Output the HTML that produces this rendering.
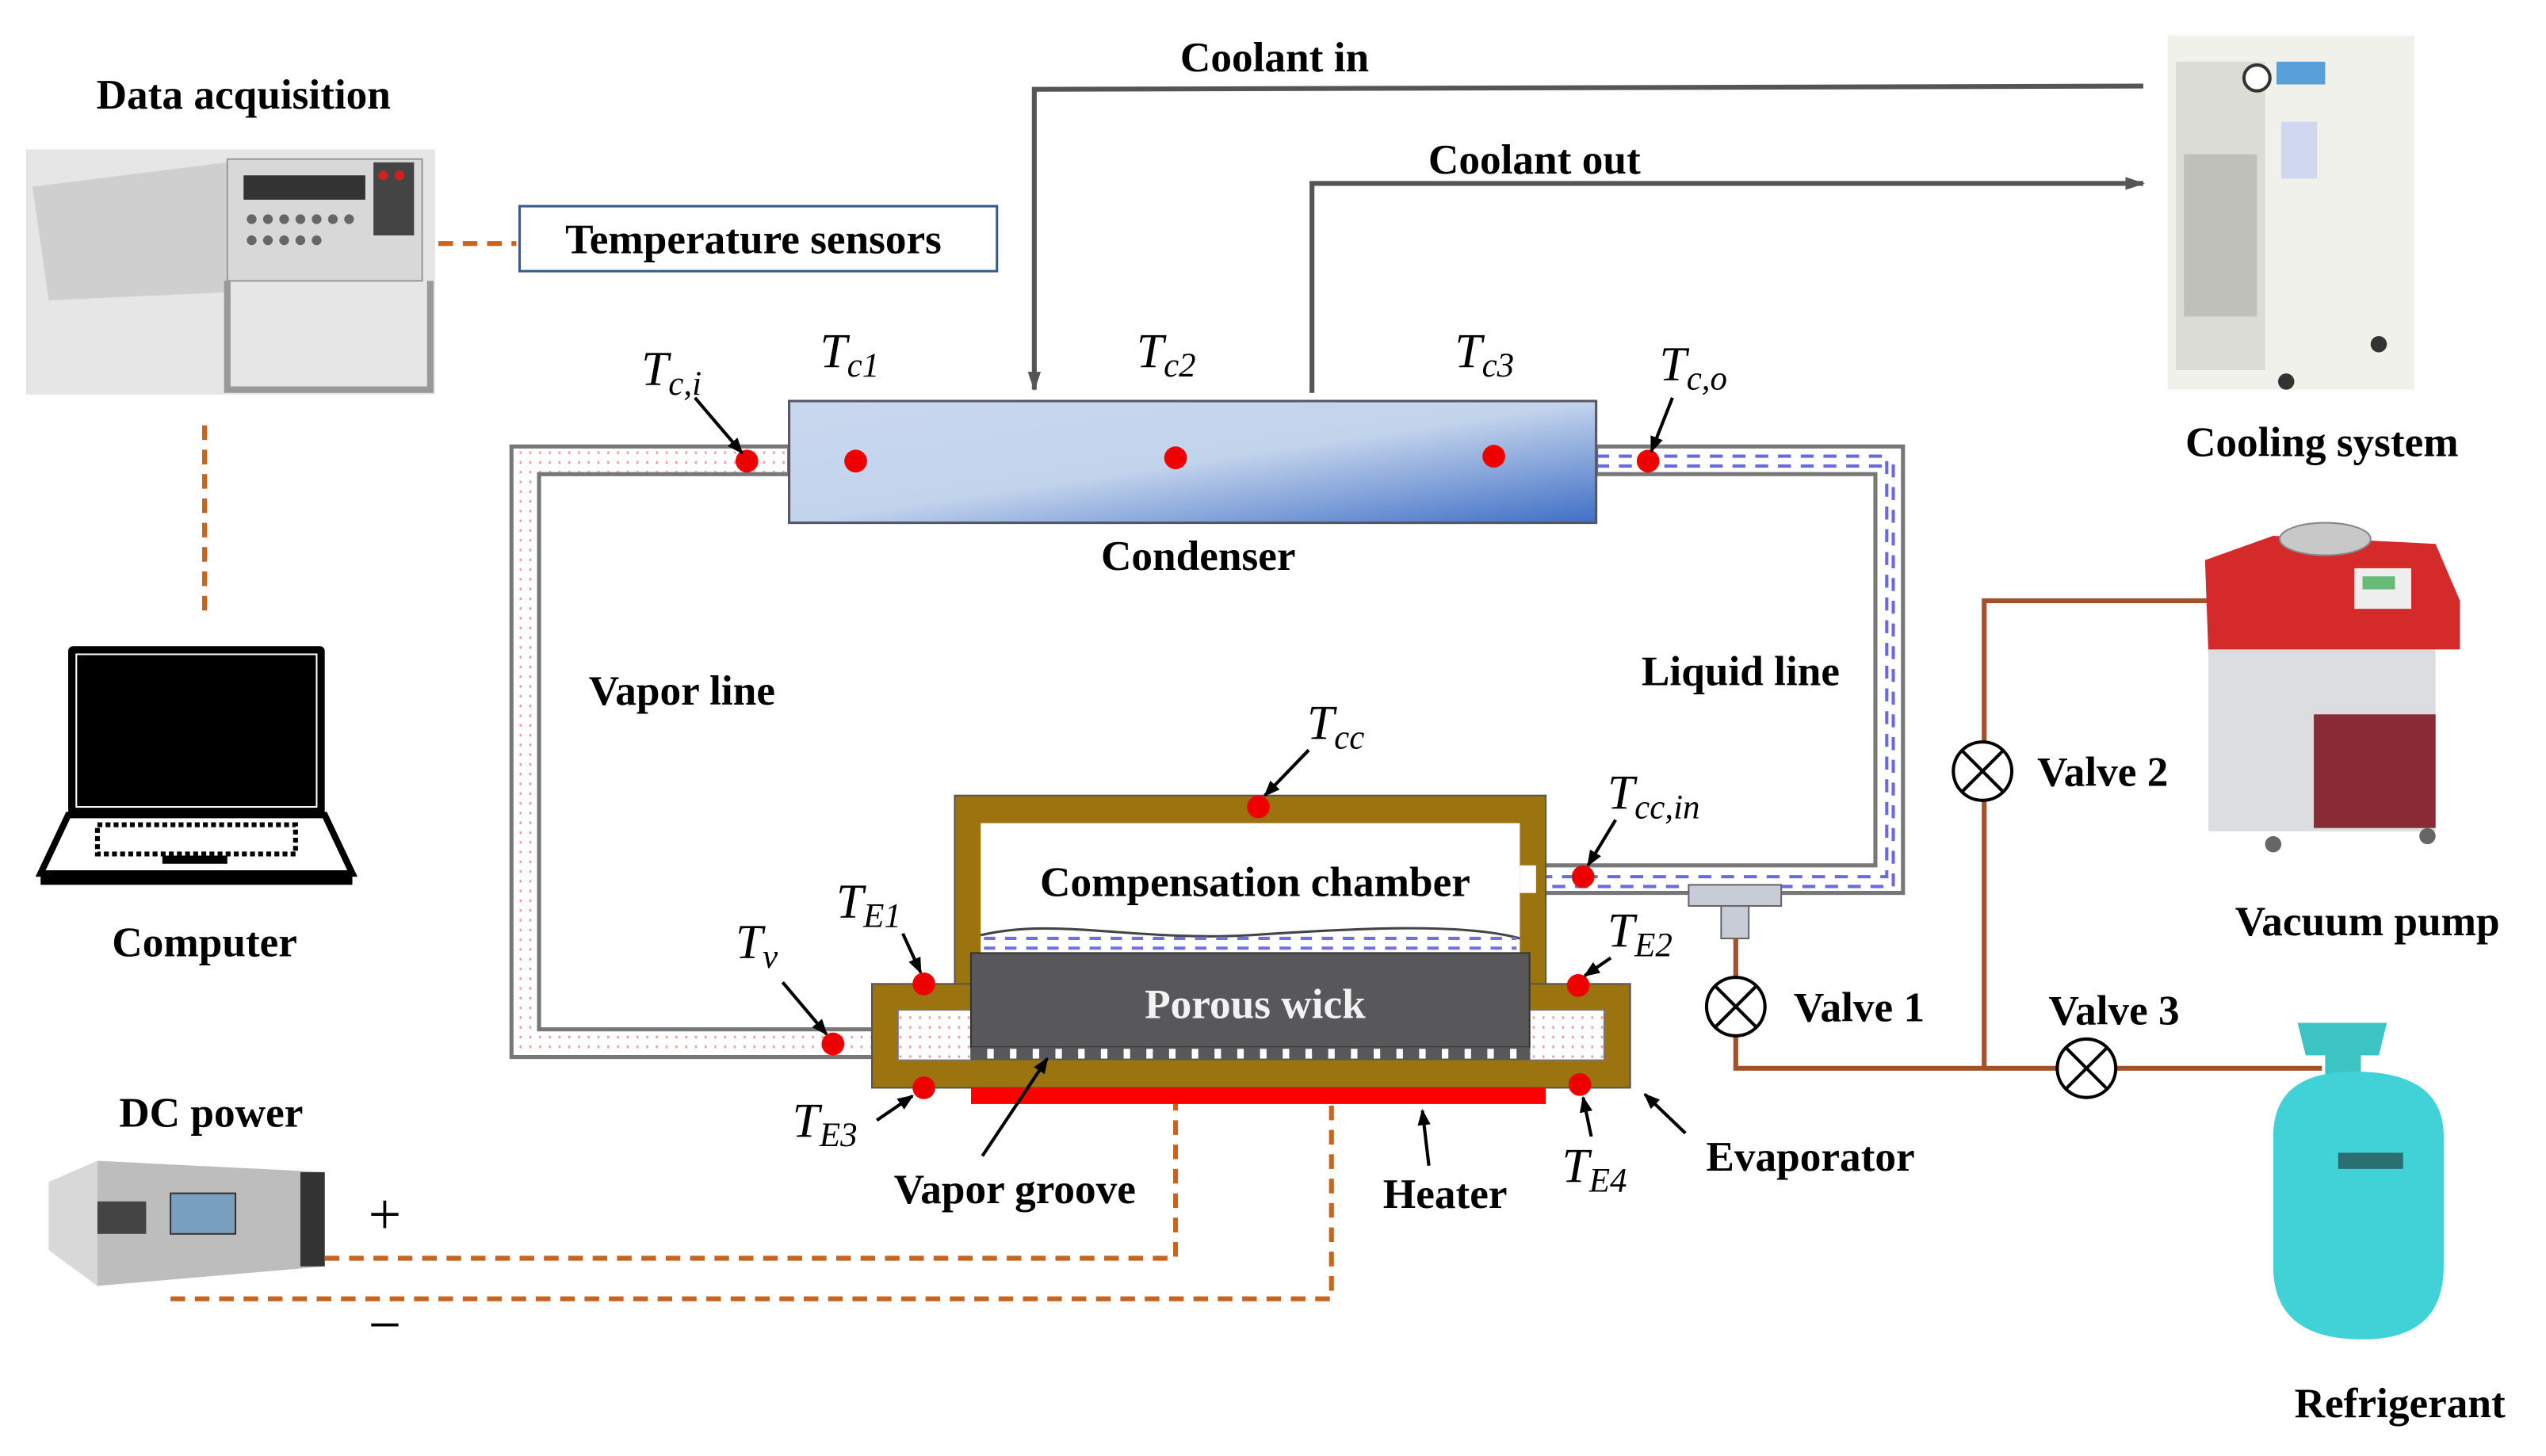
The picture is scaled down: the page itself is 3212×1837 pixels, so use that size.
<!DOCTYPE html>
<html><head><meta charset="utf-8"><style>
html,body{margin:0;padding:0;background:#fff;width:3212px;height:1837px;overflow:hidden}
svg{display:block}
text{font-family:"Liberation Serif",serif;}
.b{font-weight:bold;font-size:26px;fill:#000}
.t{font-style:italic;font-size:30px;fill:#000}
.s{font-style:italic;font-size:21px}
</style></head><body>
<svg width="3212" height="1837" viewBox="0 0 1568 896.8" preserveAspectRatio="none" xmlns="http://www.w3.org/2000/svg">
<defs>
<linearGradient id="cg" x1="0" y1="0" x2="1" y2="1">
<stop offset="0" stop-color="#c9d8ef"/><stop offset="0.5" stop-color="#c2d3ec"/><stop offset="1" stop-color="#3f6fc6"/>
</linearGradient>
<pattern id="pd" width="6" height="6" patternUnits="userSpaceOnUse"><rect width="6" height="6" fill="#fff"/><rect x="2" y="2" width="1.2" height="1.6" fill="#e99"/></pattern>
<marker id="ar" markerWidth="10" markerHeight="10" refX="9" refY="5" orient="auto" markerUnits="userSpaceOnUse"><path d="M0,1 L10,5 L0,9 Z" fill="#000"/></marker>
<marker id="ag" markerWidth="12" markerHeight="10" refX="11" refY="5" orient="auto" markerUnits="userSpaceOnUse"><path d="M0,1 L12,5 L0,9 Z" fill="#555"/></marker>
</defs>

<!-- Data acquisition -->
<text class="b" x="150" y="67" text-anchor="middle">Data acquisition</text>
<rect x="16" y="92" width="252" height="151" fill="#e6e6e6"/>
<path d="M20,115 L140,100 L140,180 L30,185 Z" fill="#cfcfcf"/>
<rect x="140" y="98" width="120" height="75" fill="#d8d8d8" stroke="#999"/>
<rect x="150" y="108" width="75" height="15" fill="#333"/>
<rect x="230" y="100" width="25" height="45" fill="#444"/>
<circle cx="236" cy="108" r="3" fill="#c22"/><circle cx="246" cy="108" r="3" fill="#c22"/>
<g fill="#666"><circle cx="155" cy="135" r="3"/><circle cx="165" cy="135" r="3"/><circle cx="175" cy="135" r="3"/><circle cx="185" cy="135" r="3"/><circle cx="195" cy="135" r="3"/><circle cx="205" cy="135" r="3"/><circle cx="215" cy="135" r="3"/><circle cx="155" cy="148" r="3"/><circle cx="165" cy="148" r="3"/><circle cx="175" cy="148" r="3"/><circle cx="185" cy="148" r="3"/><circle cx="195" cy="148" r="3"/></g>
<path d="M140,173 L140,240 L265,240 L265,173" fill="none" stroke="#999" stroke-width="4"/>
<line x1="270" y1="150" x2="318" y2="150" stroke="#c8641e" stroke-width="3" stroke-dasharray="9,6"/>
<rect x="320" y="127" width="294" height="40" fill="#fff" stroke="#3a5a8a" stroke-width="1.5"/>
<text class="b" x="464" y="156" text-anchor="middle">Temperature sensors</text>
<line x1="126" y1="262" x2="126" y2="380" stroke="#c8641e" stroke-width="3" stroke-dasharray="9,6"/>

<!-- Computer -->
<rect x="42" y="398" width="158" height="104" fill="#000" rx="3"/>
<rect x="47" y="403" width="148" height="94" fill="#000" stroke="#fff" stroke-width="1"/>
<path d="M42,502 L200,502 L217,538 L25,538 Z" fill="#fff" stroke="#000" stroke-width="4"/>
<rect x="60" y="508" width="122" height="18" fill="none" stroke="#000" stroke-width="3" stroke-dasharray="3,2"/>
<rect x="100" y="527" width="40" height="5" fill="#000"/>
<rect x="25" y="538" width="192" height="7" fill="#000"/>
<text class="b" x="126" y="589" text-anchor="middle">Computer</text>

<!-- DC power -->
<text class="b" x="130" y="694" text-anchor="middle">DC power</text>
<path d="M30,728 L60,715 L200,722 L200,780 L60,792 L30,770 Z" fill="#d8d8d8"/>
<path d="M60,715 L200,722 L200,780 L60,792 Z" fill="#bdbdbd"/>
<rect x="105" y="735" width="40" height="25" fill="#7aa0c0" stroke="#333"/>
<rect x="185" y="722" width="15" height="58" fill="#333"/>
<rect x="60" y="740" width="30" height="20" fill="#444"/>
<text x="237" y="760" font-size="36" text-anchor="middle" font-family="Liberation Sans,sans-serif">+</text>
<text x="237" y="828" font-size="36" text-anchor="middle" font-family="Liberation Sans,sans-serif">−</text>
<polyline points="200,775 724,775 724,680" fill="none" stroke="#c8641e" stroke-width="3" stroke-dasharray="9,6"/>
<polyline points="105,800 820,800 820,680" fill="none" stroke="#c8641e" stroke-width="3" stroke-dasharray="9,6"/>

<!-- Coolant lines -->
<polyline points="1320,53 637,55 637,240" fill="none" stroke="#555" stroke-width="3" marker-end="url(#ag)"/>
<polyline points="808,242 808,113 1320,113" fill="none" stroke="#555" stroke-width="3" marker-end="url(#ag)"/>
<text class="b" x="785" y="44" text-anchor="middle">Coolant in</text>
<text class="b" x="945" y="107" text-anchor="middle">Coolant out</text>

<!-- Cooling system -->
<rect x="1335" y="22" width="152" height="218" fill="#f1f1ec"/>
<rect x="1340" y="38" width="55" height="190" fill="#dcdcd6"/>
<rect x="1345" y="95" width="45" height="100" fill="#c0c0bb"/>
<circle cx="1390" cy="48" r="8" fill="#fff" stroke="#333" stroke-width="2"/>
<rect x="1402" y="38" width="30" height="14" fill="#5aa0d8"/>
<rect x="1405" y="75" width="22" height="35" fill="#cfd8ef"/>
<circle cx="1408" cy="235" r="5" fill="#333"/><circle cx="1465" cy="212" r="5" fill="#333"/>
<text class="b" x="1430" y="281" text-anchor="middle">Cooling system</text>

<!-- Vapor line pipe -->
<path d="M486,275 L315,275 L315,651 L540,651 L540,634 L332,634 L332,292 L486,292 Z" fill="url(#pd)" stroke="#777" stroke-width="2.5"/>
<!-- Liquid line pipe -->
<path d="M983,275 L1172,275 L1172,550 L937,550 L937,533 L1155,533 L1155,292 L983,292 Z" fill="#fff" stroke="#777" stroke-width="2.5"/>
<g stroke="#6a6ae0" stroke-width="2" stroke-dasharray="8,6" fill="none">
<polyline points="983,281 1162,281 1162,540 940,540"/>
<polyline points="983,287 1166,287 1166,546 940,546"/>
</g>

<!-- Condenser -->
<rect x="486" y="247" width="497" height="75" fill="url(#cg)" stroke="#556" stroke-width="1.5"/>
<text class="b" x="738" y="351" text-anchor="middle">Condenser</text>
<g fill="#e00"><circle cx="527" cy="284" r="7"/><circle cx="724" cy="282" r="7"/><circle cx="920" cy="281" r="7"/><circle cx="460" cy="284" r="7"/><circle cx="1015" cy="284" r="7"/></g>
<text class="t" x="395" y="237">T<tspan class="s" dy="6">c,i</tspan></text>
<line x1="428" y1="245" x2="457" y2="279" stroke="#000" stroke-width="2" marker-end="url(#ar)"/>
<text class="t" x="505" y="226">T<tspan class="s" dy="6">c1</tspan></text>
<text class="t" x="700" y="226">T<tspan class="s" dy="6">c2</tspan></text>
<text class="t" x="896" y="226">T<tspan class="s" dy="6">c3</tspan></text>
<text class="t" x="1022" y="234">T<tspan class="s" dy="6">c,o</tspan></text>
<line x1="1030" y1="245" x2="1017" y2="278" stroke="#000" stroke-width="2" marker-end="url(#ar)"/>

<text class="b" x="420" y="434" text-anchor="middle">Vapor line</text>
<text class="b" x="1072" y="422" text-anchor="middle">Liquid line</text>

<!-- Evaporator -->
<rect x="588" y="490" width="364" height="125" fill="#9b7410" stroke="#555" stroke-width="1"/>
<rect x="537" y="606" width="467" height="64" fill="#9b7410" stroke="#555" stroke-width="1"/>
<rect x="604" y="507" width="332" height="82" fill="#fff"/>
<path d="M604,576 C650,565 700,580 770,576 C830,572 900,568 936,578" fill="none" stroke="#444" stroke-width="1.5"/>
<line x1="606" y1="578" x2="934" y2="578" stroke="#7070e0" stroke-width="2" stroke-dasharray="7,6"/>
<line x1="606" y1="584" x2="934" y2="584" stroke="#7070e0" stroke-width="2" stroke-dasharray="7,6"/>
<text class="b" x="773" y="552" text-anchor="middle">Compensation chamber</text>
<!-- pink cavities -->
<path d="M553,634 L553,622 L598,622 L598,653 L553,653 Z" fill="url(#pd)" stroke="#777" stroke-width="1"/>
<rect x="942" y="622" width="46" height="31" fill="url(#pd)" stroke="#777" stroke-width="1"/>
<!-- wick -->
<rect x="598" y="587" width="344" height="58" fill="#58585a" stroke="#333" stroke-width="1"/>
<rect x="598" y="645" width="344" height="8" fill="#58585a"/>
<g fill="#fff">
<rect x="608" y="646" width="4" height="6"/><rect x="622" y="646" width="4" height="6"/><rect x="636" y="646" width="4" height="6"/><rect x="650" y="646" width="4" height="6"/><rect x="664" y="646" width="4" height="6"/><rect x="678" y="646" width="4" height="6"/><rect x="692" y="646" width="4" height="6"/><rect x="706" y="646" width="4" height="6"/><rect x="720" y="646" width="4" height="6"/><rect x="734" y="646" width="4" height="6"/><rect x="748" y="646" width="4" height="6"/><rect x="762" y="646" width="4" height="6"/><rect x="776" y="646" width="4" height="6"/><rect x="790" y="646" width="4" height="6"/><rect x="804" y="646" width="4" height="6"/><rect x="818" y="646" width="4" height="6"/><rect x="832" y="646" width="4" height="6"/><rect x="846" y="646" width="4" height="6"/><rect x="860" y="646" width="4" height="6"/><rect x="874" y="646" width="4" height="6"/><rect x="888" y="646" width="4" height="6"/><rect x="902" y="646" width="4" height="6"/><rect x="916" y="646" width="4" height="6"/><rect x="930" y="646" width="4" height="6"/>
</g>
<text x="773" y="627" font-size="26" font-weight="bold" fill="#f2f2f2" text-anchor="middle" font-family="Liberation Serif,serif">Porous wick</text>
<rect x="598" y="670" width="354" height="10" fill="#f00"/>
<!-- liquid pipe entrance to CC -->
<rect x="936" y="533" width="10" height="17" fill="#fff"/>
<g fill="#e00">
<circle cx="775" cy="497" r="7"/><circle cx="975" cy="540" r="7"/><circle cx="569" cy="606" r="7"/><circle cx="972" cy="607" r="7"/><circle cx="513" cy="643" r="7"/><circle cx="569" cy="670" r="7"/><circle cx="973" cy="668" r="7"/>
</g>
<text class="t" x="805" y="455">T<tspan class="s" dy="6">cc</tspan></text>
<line x1="806" y1="462" x2="779" y2="490" stroke="#000" stroke-width="2" marker-end="url(#ar)"/>
<text class="t" x="990" y="498">T<tspan class="s" dy="6">cc,in</tspan></text>
<line x1="995" y1="505" x2="978" y2="533" stroke="#000" stroke-width="2" marker-end="url(#ar)"/>
<text class="t" x="515" y="565">T<tspan class="s" dy="6">E1</tspan></text>
<line x1="556" y1="575" x2="567" y2="599" stroke="#000" stroke-width="2" marker-end="url(#ar)"/>
<text class="t" x="990" y="583">T<tspan class="s" dy="6">E2</tspan></text>
<line x1="992" y1="590" x2="976" y2="601" stroke="#000" stroke-width="2" marker-end="url(#ar)"/>
<text class="t" x="453" y="590">T<tspan class="s" dy="6">v</tspan></text>
<line x1="482" y1="605" x2="509" y2="637" stroke="#000" stroke-width="2" marker-end="url(#ar)"/>
<text class="t" x="488" y="700">T<tspan class="s" dy="6">E3</tspan></text>
<line x1="540" y1="690" x2="562" y2="675" stroke="#000" stroke-width="2" marker-end="url(#ar)"/>
<text class="t" x="962" y="728">T<tspan class="s" dy="6">E4</tspan></text>
<line x1="980" y1="700" x2="975" y2="676" stroke="#000" stroke-width="2" marker-end="url(#ar)"/>
<line x1="605" y1="712" x2="645" y2="652" stroke="#000" stroke-width="2" marker-end="url(#ar)"/>
<text class="b" x="625" y="741" text-anchor="middle">Vapor groove</text>
<line x1="880" y1="718" x2="876" y2="684" stroke="#000" stroke-width="2" marker-end="url(#ar)"/>
<text class="b" x="890" y="744" text-anchor="middle">Heater</text>
<line x1="1038" y1="698" x2="1013" y2="674" stroke="#000" stroke-width="2" marker-end="url(#ar)"/>
<text class="b" x="1115" y="721" text-anchor="middle">Evaporator</text>

<!-- charging lines -->
<rect x="1040" y="545" width="57" height="13" fill="#c8ccd6" stroke="#666"/>
<rect x="1060" y="558" width="17" height="20" fill="#c8ccd6" stroke="#666"/>
<g stroke="#a0522d" stroke-width="3" fill="none">
<polyline points="1069,578 1069,658 1430,658"/>
<polyline points="1222,658 1222,370 1365,370"/>
</g>
<g fill="#fff" stroke="#000" stroke-width="2">
<circle cx="1069" cy="620" r="18"/><circle cx="1221" cy="475" r="18"/><circle cx="1285" cy="658" r="18"/>
</g>
<g stroke="#000" stroke-width="2">
<path d="M1056,607 L1082,633 M1082,607 L1056,633"/>
<path d="M1208,462 L1234,488 M1234,462 L1208,488"/>
<path d="M1272,645 L1298,671 M1298,645 L1272,671"/>
</g>
<text class="b" x="1145" y="629" text-anchor="middle">Valve 1</text>
<text class="b" x="1295" y="484" text-anchor="middle">Valve 2</text>
<text class="b" x="1302" y="631" text-anchor="middle">Valve 3</text>

<!-- Vacuum pump -->
<rect x="1360" y="352" width="140" height="160" fill="#dcdde0"/>
<path d="M1358,345 L1400,330 L1500,335 L1515,370 L1515,400 L1360,400 Z" fill="#d42a2a"/>
<ellipse cx="1432" cy="332" rx="28" ry="10" fill="#c8c8c8" stroke="#888"/>
<rect x="1450" y="350" width="35" height="25" fill="#eee"/>
<rect x="1455" y="355" width="20" height="8" fill="#6b7"/>
<rect x="1425" y="440" width="75" height="70" fill="#8a2a35"/>
<circle cx="1400" cy="520" r="5" fill="#666"/><circle cx="1495" cy="515" r="5" fill="#666"/>
<text class="b" x="1458" y="576" text-anchor="middle">Vacuum pump</text>

<!-- Refrigerant -->
<path d="M1415,630 L1470,630 L1465,650 L1420,650 Z" fill="#3cc4c4"/>
<rect x="1432" y="650" width="22" height="15" fill="#3cc4c4"/>
<path d="M1400,700 Q1400,660 1450,660 Q1505,660 1505,700 L1505,780 Q1505,825 1455,825 Q1400,825 1400,780 Z" fill="#40d2d6"/>
<rect x="1440" y="710" width="40" height="10" fill="#2a7070"/>
<text class="b" x="1478" y="873" text-anchor="middle">Refrigerant</text>
</svg>
</body></html>
